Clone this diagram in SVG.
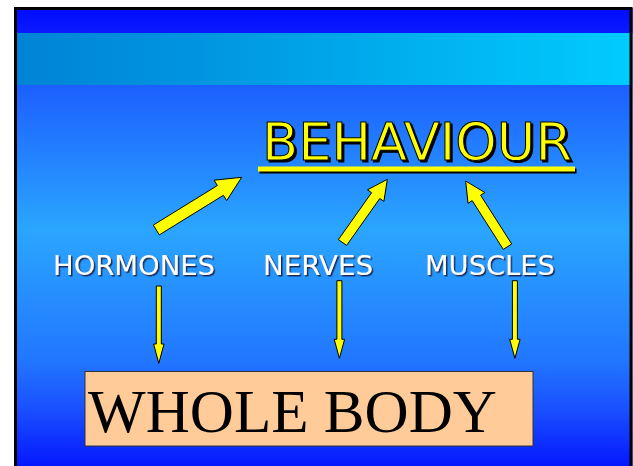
<svg xmlns="http://www.w3.org/2000/svg" width="633" height="466" viewBox="0 0 633 466">
<defs>
<linearGradient id="bg" x1="0" y1="85" x2="0" y2="466" gradientUnits="userSpaceOnUse">
<stop offset="0" stop-color="#1c5fff"/>
<stop offset="0.38" stop-color="#2aa6ff"/>
<stop offset="0.72" stop-color="#2277ff"/>
<stop offset="0.85" stop-color="#1a50ff"/>
<stop offset="1" stop-color="#0518ff"/>
</linearGradient>
<linearGradient id="band" x1="0" y1="0" x2="1" y2="0">
<stop offset="0" stop-color="#0083d6"/>
<stop offset="0.3" stop-color="#0095e0"/>
<stop offset="1" stop-color="#00ccff"/>
</linearGradient>
<linearGradient id="top" x1="0" y1="0" x2="0" y2="1">
<stop offset="0" stop-color="#000cff"/>
<stop offset="1" stop-color="#0a1aff"/>
</linearGradient>
<filter id="shadowBig" x="-10%" y="-20%" width="120%" height="150%">
<feDropShadow dx="2" dy="2" stdDeviation="0.3" flood-color="#000" flood-opacity="1"/>
</filter>
<filter id="shadowSmall" x="-10%" y="-20%" width="120%" height="150%">
<feDropShadow dx="1.5" dy="1.5" stdDeviation="0.3" flood-color="#1a2a55" flood-opacity="1"/>
</filter>
</defs>
<style>
.arrow{fill:#ffff00;stroke:#000;stroke-width:1;stroke-linejoin:miter}
.lbl{font-family:"DejaVu Sans",sans-serif;font-size:26px;fill:#fff;filter:url(#shadowSmall)}
.beh{font-family:"DejaVu Sans",sans-serif;font-size:52px;fill:#ffff00;stroke:#000;stroke-width:1;filter:url(#shadowBig)}
</style>
<rect x="0" y="0" width="633" height="466" fill="#fff"/>
<rect x="15.5" y="8" width="617" height="470" fill="url(#bg)"/>
<rect x="15.5" y="8" width="617" height="25" fill="url(#top)"/>
<rect x="15.5" y="33" width="617" height="52" fill="url(#band)"/>
<rect x="15.5" y="8.5" width="615.5" height="470" fill="none" stroke="#000" stroke-width="3"/>

<g id="behaviour">
<rect x="259.5" y="168.5" width="317" height="5" fill="#000"/>
<rect x="258" y="166.5" width="317" height="5" fill="#ffff00"/>
<text class="beh" x="262" y="160" textLength="310" lengthAdjust="spacingAndGlyphs">BEHAVIOUR</text>
</g>

<g id="hormones">
<text class="lbl" x="53" y="275" textLength="162" lengthAdjust="spacingAndGlyphs">HORMONES</text>
</g>
<g id="nerves">
<text class="lbl" x="263" y="275" textLength="110" lengthAdjust="spacingAndGlyphs">NERVES</text>
</g>
<g id="muscles">
<text class="lbl" x="425" y="275" textLength="130" lengthAdjust="spacingAndGlyphs">MUSCLES</text>
</g>

<g id="whole-body">
<rect x="85" y="371.5" width="448" height="74.5" fill="#ffcc99" stroke="#333" stroke-width="1"/>
<text x="88" y="432" font-family="'Liberation Serif',serif" font-size="62" textLength="409" lengthAdjust="spacingAndGlyphs" fill="#000">WHOLE BODY</text>
</g>

<g id="connectors">
<polygon class="arrow" points="153.3,225.1 217.4,185.5 214.1,180.2 241.7,177.3 226.7,200.6 223.4,195.3 159.3,234.9"/>
<polygon class="arrow" points="338.4,239.6 371.6,192.7 367.5,189.8 387.3,179.3 383.9,201.4 379.8,198.5 346.6,245.4"/>
<polygon class="arrow" points="503.3,249.4 472.2,200.6 468,203.3 465.7,181 484.8,192.5 480.6,195.2 511.7,244"/>
<polygon class="arrow" points="156.3,286 161.3,286 161.3,344 164,344 158.8,363.3 153.6,344 156.3,344"/>
<polygon class="arrow" points="336.9,280.7 341.9,280.7 341.9,339.3 344.6,339.3 339.4,358.3 334.2,339.3 336.9,339.3"/>
<polygon class="arrow" points="512.4,280.7 517.4,280.7 517.4,339.3 520.1,339.3 514.9,358.3 509.7,339.3 512.4,339.3"/>
</g>
</svg>
